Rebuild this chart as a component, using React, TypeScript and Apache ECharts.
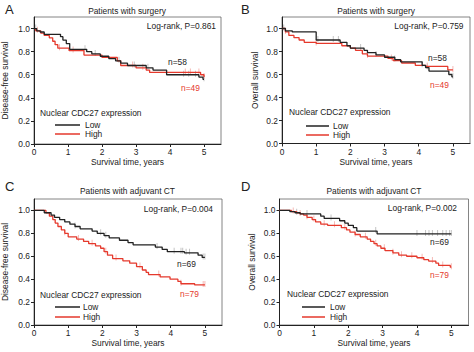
import React, { useEffect, useRef } from "react";
import * as echarts from "echarts";

// ---------- data ----------
const xTicks = [0, 1, 2, 3, 4, 5];
const yTicks = [0, 0.2, 0.4, 0.6, 0.8, 1.0];

// Panel A: DFS, patients with surgery
const aLowT = [0, 0.08, 0.18, 0.3, 0.78, 0.85, 0.95, 1.05, 1.55, 1.7, 1.95, 2.2, 2.4, 2.55, 2.75, 3.3, 3.5, 3.9, 4.85, 4.97, 5.0];
const aLowS = [1, 0.98, 0.97, 0.95, 0.93, 0.9, 0.87, 0.82, 0.8, 0.78, 0.76, 0.74, 0.72, 0.7, 0.68, 0.66, 0.64, 0.6, 0.58, 0.56, 0.56];
const aHighT = [0, 0.05, 0.2, 0.3, 0.45, 0.55, 0.62, 0.7, 1.03, 1.47, 2.0, 2.45, 2.55, 3.0, 3.3, 3.4, 4.9, 5.0];
const aHighS = [1, 0.98, 0.96, 0.94, 0.92, 0.89, 0.86, 0.83, 0.81, 0.77, 0.75, 0.72, 0.68, 0.66, 0.64, 0.62, 0.6, 0.58];
const aLowCens = [0.05, 1.5, 1.8, 2.5, 2.95, 3.35, 4.4, 4.55, 4.75, 5.0];
const aHighCens = [0.1, 0.75, 1.15, 2.9, 3.2, 4.45, 4.6, 4.85, 5.0];

// Panel B: OS, patients with surgery
const bLowT = [0, 0.1, 0.3, 1.0, 1.7, 1.9, 2.0, 2.4, 2.5, 2.75, 3.0, 3.3, 3.47, 4.1, 4.2, 4.3, 4.88, 4.97, 5.0];
const bLowS = [1, 0.98, 0.97, 0.9, 0.88, 0.85, 0.83, 0.81, 0.79, 0.77, 0.75, 0.73, 0.71, 0.68, 0.66, 0.63, 0.6, 0.58, 0.58];
const bHighT = [0, 0.1, 0.2, 0.35, 0.5, 0.65, 1.0, 1.75, 2.0, 2.15, 2.35, 2.5, 3.1, 3.25, 3.5, 3.9, 4.2, 4.85, 5.0];
const bHighS = [1, 0.97, 0.94, 0.92, 0.9, 0.88, 0.87, 0.85, 0.83, 0.81, 0.78, 0.76, 0.74, 0.72, 0.7, 0.68, 0.67, 0.64, 0.64];
const bLowCens = [0.05, 1.05, 1.5, 1.65, 2.3, 2.75, 3.3, 4.1, 4.25, 5.0];
const bHighCens = [0.1, 1.0, 2.5, 3.2, 4.25, 5.0];

// Panel C: DFS, patients with adjuvant CT
const cLowT = [0, 0.3, 0.5, 0.6, 0.75, 0.9, 1.05, 1.2, 1.35, 1.7, 1.85, 2.05, 2.2, 2.5, 2.75, 2.9, 3.55, 3.75, 3.9, 4.4, 4.8, 4.92, 5.0];
const cLowS = [1, 0.98, 0.96, 0.94, 0.92, 0.9, 0.88, 0.86, 0.84, 0.82, 0.8, 0.78, 0.76, 0.74, 0.72, 0.7, 0.68, 0.66, 0.64, 0.63, 0.61, 0.59, 0.59];
const cHighT = [0, 0.35, 0.45, 0.55, 0.62, 0.7, 0.8, 0.9, 1.0, 1.25, 1.45, 1.6, 1.8, 1.95, 2.05, 2.15, 2.3, 2.6, 2.8, 3.0, 3.17, 3.28, 3.35, 3.69, 3.98, 4.21, 4.3, 4.7, 5.0];
const cHighS = [1, 0.98, 0.95, 0.92, 0.89, 0.86, 0.83, 0.8, 0.77, 0.75, 0.73, 0.71, 0.69, 0.67, 0.64, 0.61, 0.58, 0.56, 0.54, 0.51, 0.48, 0.46, 0.44, 0.42, 0.4, 0.38, 0.36, 0.35, 0.35];
const cLowCens = [1.2, 1.95, 2.1, 3.6, 4.1, 4.3, 4.35, 4.45, 4.55, 4.95, 5.0];
const cHighCens = [0.9, 1.3, 1.7, 2.1, 2.4, 3.1, 3.65, 4.3, 4.95, 5.0];

// Panel D: OS, patients with adjuvant CT
const dLowT = [0, 0.3, 0.45, 0.6, 1.2, 1.3, 1.75, 1.9, 2.0, 2.15, 2.25, 2.84, 5.0];
const dLowS = [1, 0.99, 0.98, 0.97, 0.95, 0.93, 0.91, 0.89, 0.87, 0.85, 0.82, 0.795, 0.795];
const dHighT = [0, 0.35, 0.5, 0.6, 0.7, 0.8, 0.95, 1.05, 1.2, 1.4, 1.8, 1.95, 2.05, 2.2, 2.35, 2.55, 2.65, 2.75, 2.84, 2.95, 3.07, 3.3, 3.47, 3.7, 4.0, 4.2, 4.34, 4.55, 4.63, 4.97, 5.0];
const dHighS = [1, 0.99, 0.98, 0.97, 0.96, 0.94, 0.92, 0.9, 0.88, 0.87, 0.85, 0.83, 0.81, 0.79, 0.77, 0.75, 0.73, 0.71, 0.69, 0.67, 0.65, 0.63, 0.61, 0.6, 0.587, 0.57, 0.558, 0.54, 0.52, 0.505, 0.505];
const dLowCens = [0.5, 0.8, 1.5, 2.8, 4.0, 4.25, 4.35, 4.45, 4.6, 4.75, 4.85, 4.95, 5.0];
const dHighCens = [0.4, 0.6, 0.8, 1.0, 1.3, 1.6, 1.9, 2.2, 2.5, 2.8, 3.05, 3.3, 3.55, 3.85, 4.15, 4.45, 4.75, 5.0];

const panelLetters = ["A", "B", "C", "D"];
const panelTitles = ["Patients with surgery", "Patients with surgery", "Patients with adjuvant CT", "Patients with adjuvant CT"];
const logRankTexts = ["Log-rank, P=0.861", "Log-rank, P=0.759", "Log-rank, P=0.004", "Log-rank, P=0.002"];
const nLowTexts = ["n=58", "n=58", "n=69", "n=69"];
const nHighTexts = ["n=49", "n=49", "n=79", "n=79"];
const yNames = ["Disease-free survival", "Overall survival", "Disease-free survival", "Overall survival"];
const xName = "Survival time, years";
const legendTitle = "Nuclear CDC27 expression";
const legendNames = ["Low", "High"];

// ---------- styles / layout ----------
const BLACK = "#222222";
const RED = "#e5392c";
const FONT = "Liberation Sans, Arial, sans-serif";
const FS = 8.4;

const grids = [
  { left: 33, top: 17, width: 188, height: 127 },
  { left: 282, top: 17, width: 188, height: 126.5 },
  { left: 33, top: 199, width: 189, height: 126 },
  { left: 279.5, top: 199, width: 189, height: 126 },
];
const yNameGaps = [25, 23, 25, 24];
const titleY = [10.5, 10.5, 190.5, 190.5];

// text positions per panel: [x, y]
const letterPos = [[5, 9], [241, 9], [5, 186], [241, 186]];
const logRankPos = [[216, 26], [463.5, 26], [213, 208.5], [457, 208]];
const nLowPos = [[168, 62], [428, 57.5], [177, 264], [430, 241.5]];
const nHighPos = [[181, 88], [430, 85], [180, 293.5], [430, 275]];
const legTitlePos = [[40, 113], [289, 112], [40, 294.5], [287, 293.5]];
const legLinePos = [[55, 80, 125, 134, 85], [306, 329, 126, 135, 333], [55, 80, 307, 317, 83], [302, 325, 307, 317, 330]];

function pairs(t: number[], s: number[]) {
  return t.map((v, i) => [v, s[i]]);
}
function survAt(t: number[], s: number[], x: number) {
  let v = s[0];
  for (let i = 0; i < t.length; i++) if (t[i] <= x) v = s[i];
  return v;
}

const panels = [
  { lt: aLowT, ls: aLowS, ht: aHighT, hs: aHighS, lc: aLowCens, hc: aHighCens },
  { lt: bLowT, ls: bLowS, ht: bHighT, hs: bHighS, lc: bLowCens, hc: bHighCens },
  { lt: cLowT, ls: cLowS, ht: cHighT, hs: cHighS, lc: cLowCens, hc: cHighCens },
  { lt: dLowT, ls: dLowS, ht: dHighT, hs: dHighS, lc: dLowCens, hc: dHighCens },
];

function buildOption() {
  const grid: any[] = [];
  const xAxis: any[] = [];
  const yAxis: any[] = [];
  const series: any[] = [];
  const graphic: any[] = [];

  panels.forEach((p, i) => {
    const g = grids[i];
    grid.push({ ...g, show: true, borderColor: "#666", borderWidth: 0.8, backgroundColor: "transparent" });
    xAxis.push({
      type: "value",
      gridIndex: i,
      min: 0,
      max: 5.5,
      interval: 1,
      name: xName,
      nameLocation: "middle",
      nameGap: 14,
      nameTextStyle: { fontSize: FS, color: BLACK, fontFamily: FONT, verticalAlign: "top" },
      axisLine: { show: true, lineStyle: { color: BLACK, width: 1 } },
      axisTick: { show: true, length: 3, inside: false, customValues: xTicks, lineStyle: { color: BLACK } },
      axisLabel: {
        fontSize: FS,
        color: BLACK,
        fontFamily: FONT,
        margin: 4,
        customValues: xTicks,
        formatter: (v: number) => (Number.isInteger(v) && v <= 5 ? String(v) : ""),
      },
      splitLine: { show: false },
    });
    yAxis.push({
      type: "value",
      gridIndex: i,
      min: 0,
      max: 1.1,
      interval: 0.2,
      name: yNames[i],
      nameLocation: "middle",
      nameRotate: 90,
      nameGap: yNameGaps[i],
      nameTextStyle: { fontSize: FS, color: BLACK, fontFamily: FONT },
      axisLine: { show: true, lineStyle: { color: BLACK, width: 1 } },
      axisTick: { show: true, length: 3, inside: false, customValues: yTicks, lineStyle: { color: BLACK } },
      axisLabel: {
        fontSize: FS,
        color: BLACK,
        fontFamily: FONT,
        margin: 4,
        customValues: yTicks,
        formatter: (v: number) => (v <= 1.0001 ? v.toFixed(1) : ""),
      },
      splitLine: { show: false },
    });

    const censLine = (times: number[], t: number[], s: number[], color: string) => ({
      type: "scatter",
      xAxisIndex: i,
      yAxisIndex: i,
      symbol: "rect",
      symbolSize: [1, 6],
      symbolOffset: [0, -1],
      itemStyle: { color },
      z: 1,
      silent: true,
      data: times.map((x) => [x, survAt(t, s, x)]),
    });
    series.push(censLine(p.lc, p.lt, p.ls, "#b5b5b5"));
    series.push(censLine(p.hc, p.ht, p.hs, "#f3a8a2"));
    series.push({
      type: "line",
      name: legendNames[1],
      xAxisIndex: i,
      yAxisIndex: i,
      step: "end",
      showSymbol: false,
      lineStyle: { color: RED, width: 1.3 },
      itemStyle: { color: RED },
      z: 3,
      data: pairs(p.ht, p.hs),
    });
    series.push({
      type: "line",
      name: legendNames[0],
      xAxisIndex: i,
      yAxisIndex: i,
      step: "end",
      showSymbol: false,
      lineStyle: { color: BLACK, width: 1.3 },
      itemStyle: { color: BLACK },
      z: 4,
      data: pairs(p.lt, p.ls),
    });

    const txt = (x: number, y: number, text: string, opts: any = {}) => ({
      type: "text",
      x,
      y,
      silent: true,
      style: {
        text,
        fontSize: FS,
        fontFamily: FONT,
        fill: BLACK,
        verticalAlign: "middle",
        align: "left",
        ...opts,
      },
    });
    graphic.push(txt(letterPos[i][0], letterPos[i][1], panelLetters[i], { fontSize: 13 }));
    graphic.push(txt(g.left + g.width / 2, titleY[i], panelTitles[i], { align: "center" }));
    graphic.push(txt(logRankPos[i][0], logRankPos[i][1], logRankTexts[i], { align: "right" }));
    graphic.push(txt(nLowPos[i][0], nLowPos[i][1], nLowTexts[i]));
    graphic.push(txt(nHighPos[i][0], nHighPos[i][1], nHighTexts[i], { fill: RED }));
    graphic.push(txt(legTitlePos[i][0], legTitlePos[i][1], legendTitle));
    const [lx1, lx2, ly1, ly2, tx] = legLinePos[i];
    graphic.push({ type: "line", silent: true, shape: { x1: lx1, y1: ly1, x2: lx2, y2: ly1 }, style: { stroke: BLACK, lineWidth: 1.5 } });
    graphic.push({ type: "line", silent: true, shape: { x1: lx1, y1: ly2, x2: lx2, y2: ly2 }, style: { stroke: RED, lineWidth: 1.5 } });
    graphic.push(txt(tx, ly1, legendNames[0]));
    graphic.push(txt(tx, ly2, legendNames[1]));
  });

  return {
    animation: false,
    backgroundColor: "#ffffff",
    grid,
    xAxis,
    yAxis,
    series,
    graphic,
  };
}

export default function App() {
  const ref = useRef<HTMLDivElement>(null);
  useEffect(() => {
    if (!ref.current) return;
    const chart = echarts.init(ref.current, undefined, { renderer: "svg" });
    chart.setOption(buildOption() as any);
    return () => chart.dispose();
  }, []);
  return <div ref={ref} style={{ position: "fixed", left: 0, top: 0, width: 474, height: 352, background: "#fff" }} />;
}
